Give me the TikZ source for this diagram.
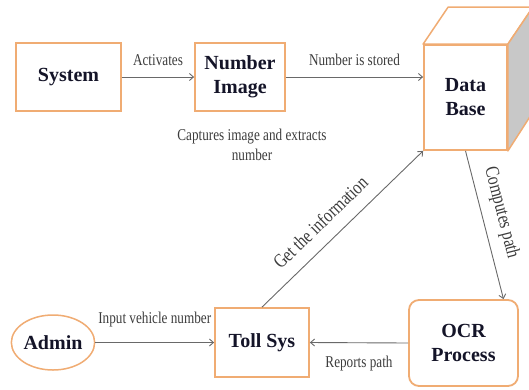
\documentclass[tikz,border=0pt]{standalone}
\usepackage{fontspec}
\setmainfont{Liberation Serif}[BoldFont={Liberation Serif Bold}]
\newfontfamily\boxfont{Liberation Serif}[BoldFont={Liberation Serif Bold}]
\newfontfamily\condfont[FakeStretch=0.8]{Liberation Serif}
\usetikzlibrary{arrows.meta,shapes.geometric,calc}
\definecolor{boxor}{RGB}{240,172,115}
\definecolor{txtdark}{RGB}{20,20,40}
\definecolor{arrgrey}{RGB}{105,105,105}
\definecolor{lblgrey}{RGB}{60,60,60}
\definecolor{sidegrey}{RGB}{200,200,200}
\begin{document}
\begin{tikzpicture}[x=1pt,y=-1pt,
 box/.style={draw=boxor,line width=1.8pt,fill=white,font=\boxfont\fontsize{20}{24}\selectfont\bfseries,text=txtdark,align=center,inner sep=0pt},
 conn/.style={draw=arrgrey,line width=0.9pt,-{Straight Barb[length=4pt,width=7pt]}},
 lbl/.style={font=\condfont\fontsize{16.5}{18}\selectfont,text=lblgrey,inner sep=1pt},
 slbl/.style={lbl,font=\condfont\fontsize{19.5}{22}\selectfont}]
\useasboundingbox (0,0) rectangle (529,389);

\node[box,minimum width=105pt,minimum height=68pt] (sys) at (68.5,77) {System};
\node[box,minimum width=90pt,minimum height=68pt] (num) at (240,77) {Number\\Image};
\node[box,minimum width=83pt,minimum height=105pt] (db) at (465.5,97.5) {Data\\Base};
\draw[boxor,line width=1.5pt,fill=white,line join=round] (db.north west) -- ++(25,-37) -- ($(db.north east)+(25,-37)$) -- (db.north east) -- cycle;
\draw[boxor,line width=1.5pt,fill=sidegrey,line join=round] (db.north east) -- ++(25,-37) -- ++(0,105) -- (db.south east) -- cycle;
\node[box,ellipse,line width=1.5pt,minimum width=66pt,minimum height=55pt] (admin) at (53,342.5) {Admin};
\node[box,minimum width=94pt,minimum height=69pt] (toll) at (262,342.5) {Toll Sys};
\node[box,rounded corners=10pt,minimum width=109pt,minimum height=86pt] (ocr) at (463.5,343) {OCR\\Process};

\node[lbl,align=center,font=\condfont\fontsize{16.5}{20}\selectfont] (cap) at (252,145) {Captures image and extracts\\number};

\draw[conn] (sys) -- (num) node[lbl,midway,above=12pt,anchor=base] {Activates};
\draw[conn] (num.east) -- (num.east -| db.west) node[lbl,midway,above=12pt,anchor=base] {Number is stored};
\draw[conn] (admin) -- (toll) node[lbl,midway,above=19pt,anchor=base] {Input vehicle number};
\draw[conn] (ocr.west) -- (toll.east) node[lbl,midway,below=12pt] {Reports path};
\draw[conn] (toll.north) -- (db.south west) node[slbl,pos=0.45,sloped,above=12pt] {Get the information};
\draw[conn] (db.south) -- ([xshift=40pt]ocr.north) node[slbl,pos=0.45,sloped,above=9pt] {Computes path};
\end{tikzpicture}
\end{document}
